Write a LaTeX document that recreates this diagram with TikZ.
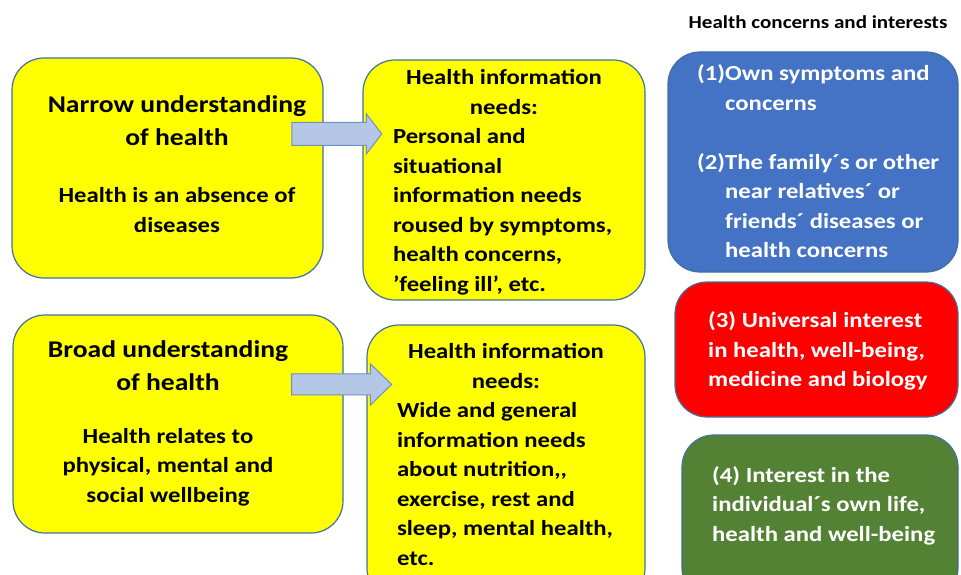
\documentclass[tikz,border=0pt]{standalone}
\usepackage{fontspec}
\setmainfont{Carlito}[FakeStretch=1.15]
\usetikzlibrary{shapes.arrows,calc}
\definecolor{boxline}{HTML}{41719C}
\definecolor{boxyellow}{HTML}{FFFF00}
\definecolor{boxblue}{HTML}{4472C4}
\definecolor{boxred}{HTML}{FF0000}
\definecolor{boxgreen}{HTML}{548235}
\definecolor{arrowfill}{HTML}{B4C7E7}
\definecolor{arrowline}{HTML}{6F8FC9}
\begin{document}
\begin{tikzpicture}
  [x=1pt,y=-1pt,
   box/.style={draw=boxline,line width=1.2pt,rounded corners=32pt,inner sep=0pt},
   yellowbox/.style={box,fill=boxyellow},
   headtext/.style={font=\bfseries\fontsize{24}{33}\selectfont,align=center,inner sep=0pt},
   bodytext/.style={font=\bfseries\fontsize{21.5}{29.3}\selectfont,align=center,inner sep=0pt},
   needtext/.style={font=\bfseries\fontsize{21.5}{29.5}\selectfont,align=flush left,inner sep=0pt},
   whitetext/.style={font=\bfseries\fontsize{21.5}{29.5}\selectfont,align=left,inner sep=0pt,text=white,anchor=west},
   fatarrow/.style={single arrow,draw=arrowline,fill=arrowfill,line width=1pt,inner sep=0pt,text depth=0pt}]
  \useasboundingbox (0,0) rectangle (961,575);
  % left column
  \node[yellowbox,minimum width=311pt,minimum height=220pt] (narrow) at (167.5,168) {};
  \node[headtext] (narrowtitle) at (177,121) {Narrow understanding\\of health};
  \node[bodytext] (narrowtext) at (177,210) {Health is an absence of\\diseases};
  \node[yellowbox,minimum width=330pt,minimum height=218pt] (broad) at (178,424) {};
  \node[headtext] (broadtitle) at (168,366) {Broad understanding\\of health};
  \node[bodytext] (broadtext) at (168,467) {Health relates to\\physical, mental and\\social wellbeing};
  % middle column
  \node[yellowbox,minimum width=282pt,minimum height=240pt] (needs1) at (504,180) {};
  \node[needtext,text width=222pt] (needs1text) at (504,182.5)
    {{\centering Health information\\needs:\par}Personal and\\situational\\information needs\\roused by symptoms,\\health concerns,\\’feeling ill’, etc.};
  \node[yellowbox,minimum width=278pt,minimum height=275pt] (needs2) at (506,462.5) {};
  \node[needtext,text width=218pt] (needs2text) at (506,454.5)
    {{\centering Health information\\needs:\par}Wide and general\\information needs\\about nutrition,{},\\exercise, rest and\\sleep, mental health,\\etc.};
  % arrows
  \node[fatarrow,text height=22pt,minimum height=90pt,single arrow head extend=8.5pt,single arrow tip angle=105,anchor=tip] (arrow1) at ($(needs1.north west)+(20,74.5)$) {};
  \node[fatarrow,text height=20pt,minimum height=100pt,single arrow head extend=10pt,single arrow tip angle=88,anchor=tip] (arrow2) at ($(needs2.north west)+(26,60)$) {};
  % right column
  \node[font=\bfseries\fontsize{18.3}{21}\selectfont,inner sep=0pt] (concernstitle) at (818,22) {Health concerns and interests};
  \node[box,fill=boxblue,minimum width=290pt,minimum height=220pt] (own) at (813,162) {};
  \node[whitetext] (owntext) at (697,161.5)
    {(1)Own symptoms and\\\hspace*{28pt}concerns\\[29.5pt](2)The family´s or other\\\hspace*{28pt}near relatives´ or\\\hspace*{28pt}friends´ diseases or\\\hspace*{28pt}health concerns};
  \node[box,fill=boxred,minimum width=283pt,minimum height=135pt] (universal) at (816.5,349.5) {};
  \node[whitetext] (universaltext) at (708,351)
    {(3) Universal interest\\in health, well-being,\\medicine and biology};
  \node[box,fill=boxgreen,minimum width=276pt,minimum height=165pt] (individual) at (820,517.5) {};
  \node[whitetext] (individualtext) at (712,505.5)
    {(4) Interest in the\\individual´s own life,\\health and well-being};
\end{tikzpicture}
\end{document}
